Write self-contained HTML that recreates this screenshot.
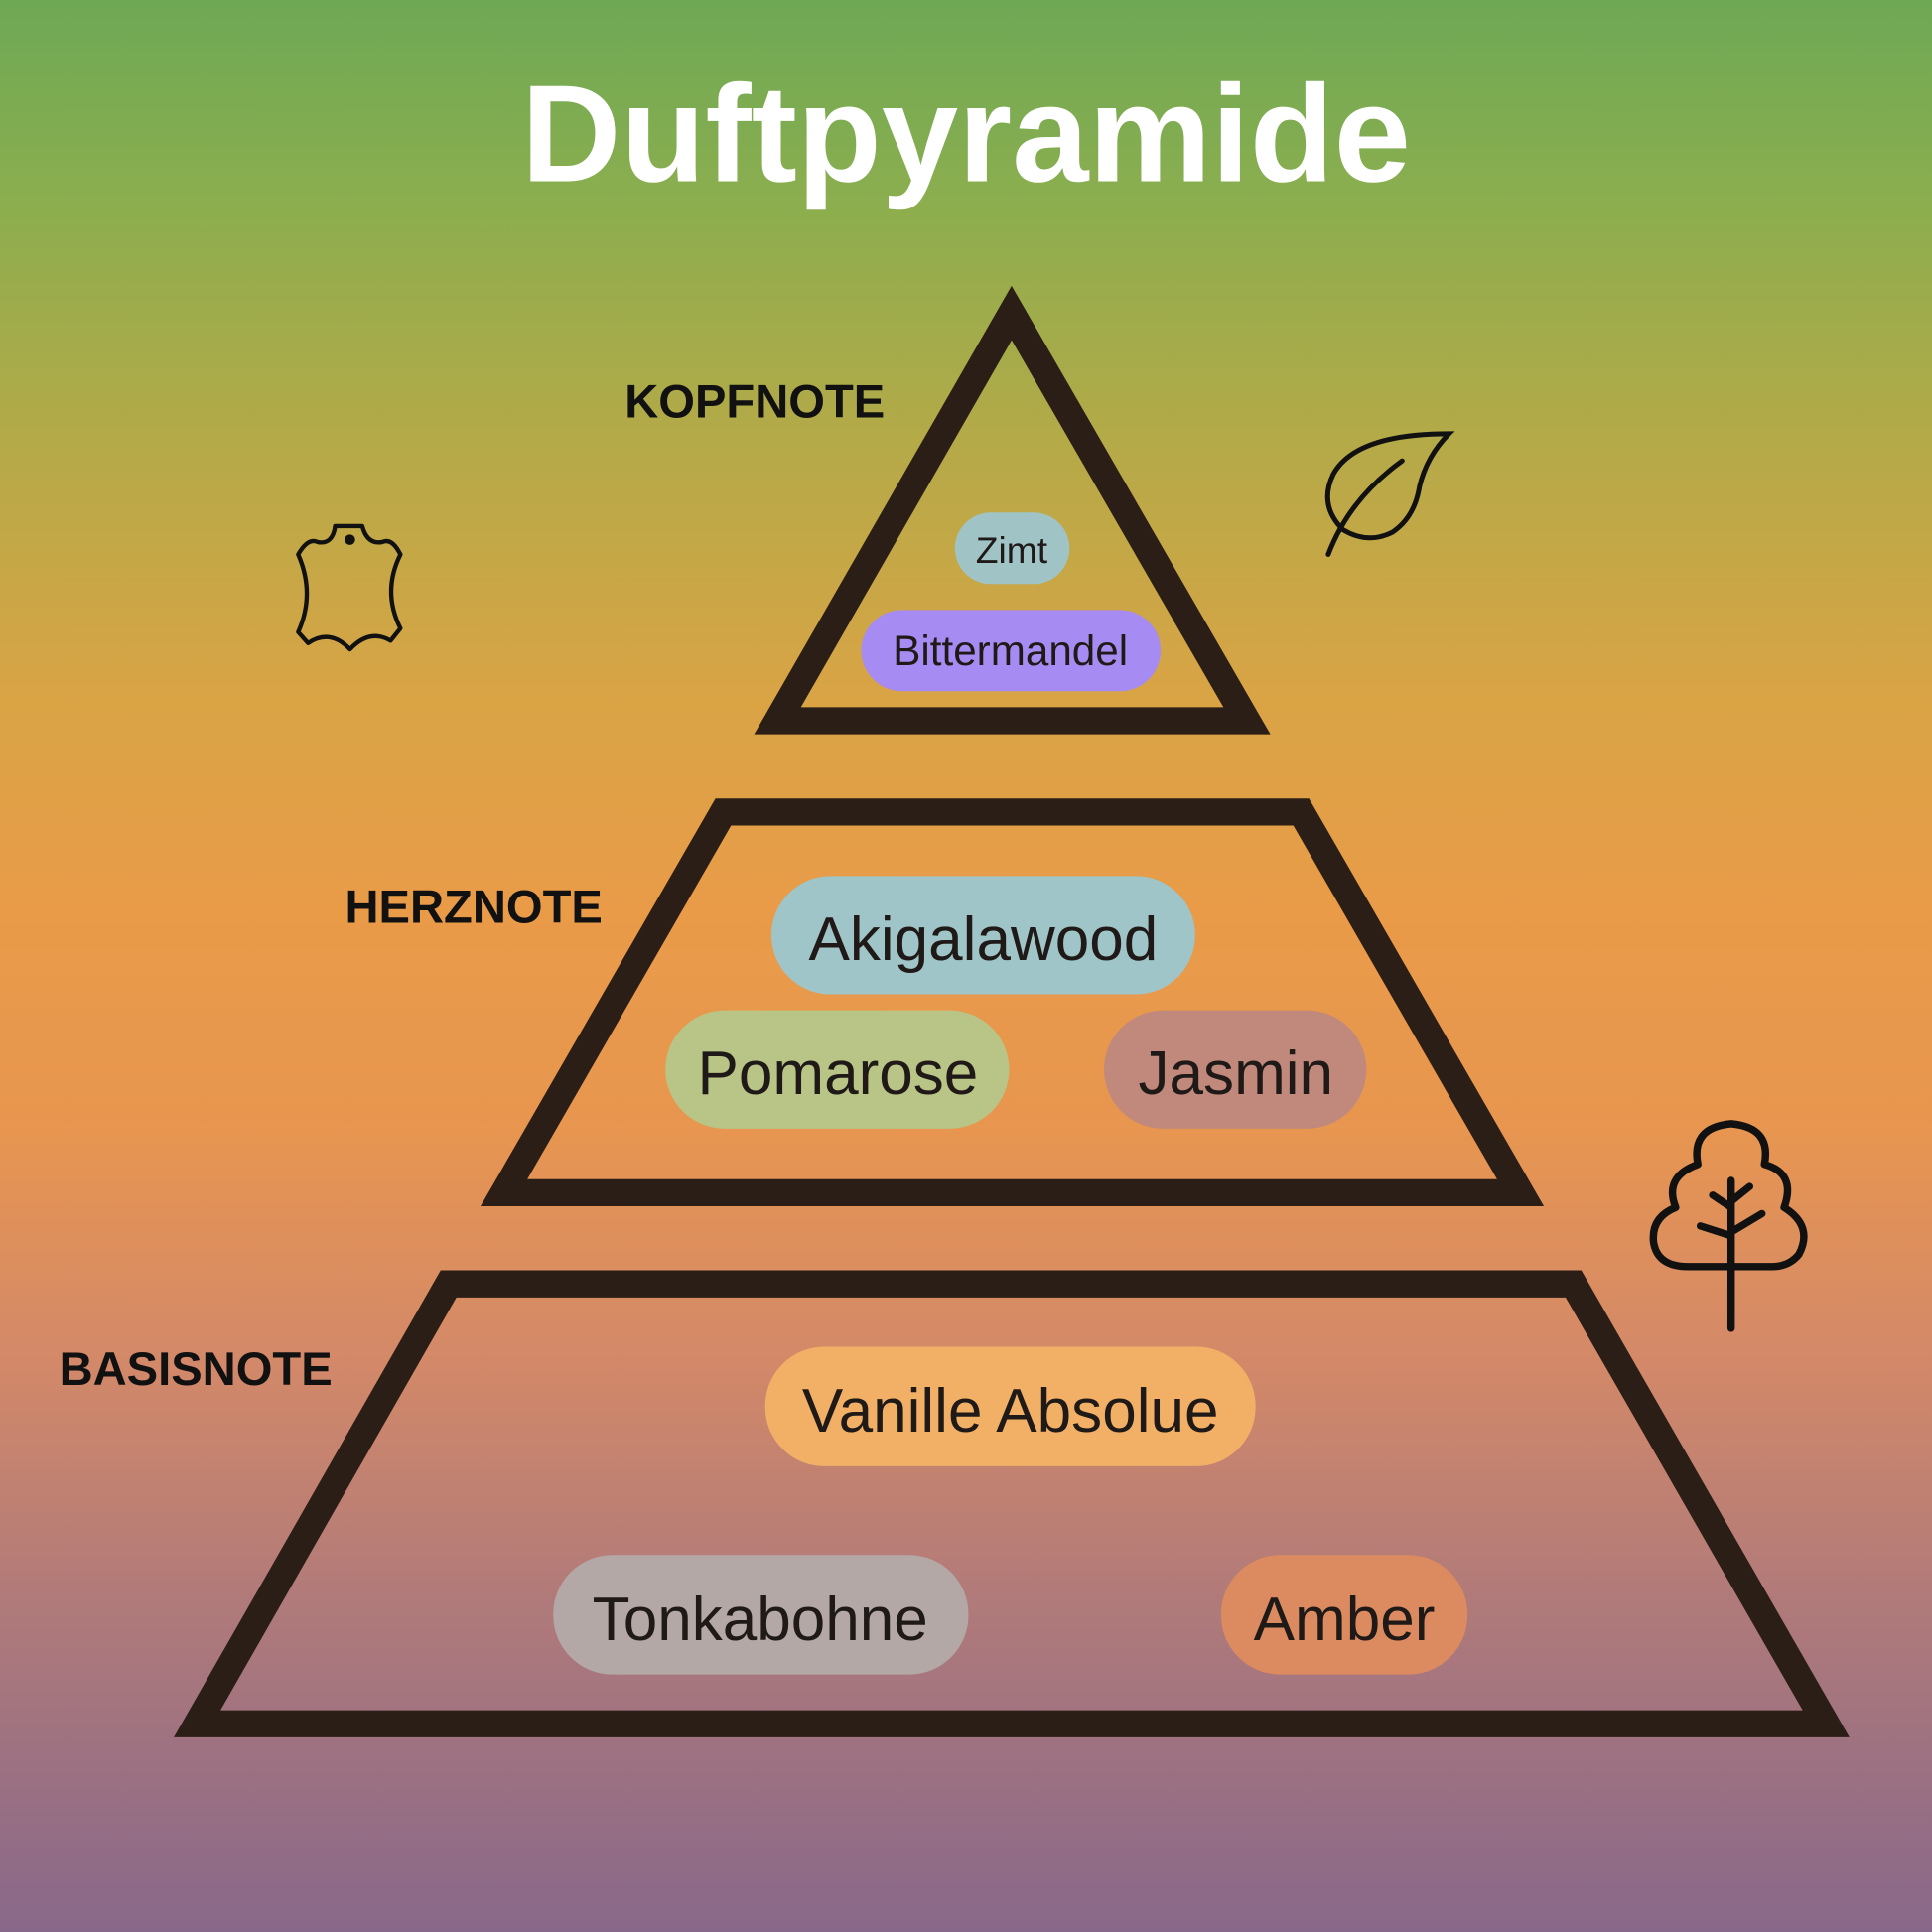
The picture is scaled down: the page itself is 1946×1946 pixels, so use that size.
<!DOCTYPE html>
<html><head><meta charset="utf-8"><style>html,body{margin:0;padding:0;width:1946px;height:1946px;overflow:hidden}</style></head>
<body>
<svg width="1946" height="1946" viewBox="0 0 1568 1568" xmlns="http://www.w3.org/2000/svg">
<defs>
<linearGradient id="bg" x1="0" y1="0" x2="0" y2="1">
<stop offset="0" stop-color="#6ea855"/>
<stop offset="0.1" stop-color="#8aae4f"/>
<stop offset="0.22" stop-color="#b2aa48"/>
<stop offset="0.36" stop-color="#d9a445"/>
<stop offset="0.47" stop-color="#e99b48"/>
<stop offset="0.58" stop-color="#e8964f"/>
<stop offset="0.7" stop-color="#d48968"/>
<stop offset="0.83" stop-color="#b07a7a"/>
<stop offset="1" stop-color="#88688a"/>
</linearGradient>
</defs>
<rect width="1568" height="1568" fill="url(#bg)"/>
<text x="784" y="147" text-anchor="middle" font-family="Liberation Sans, sans-serif" font-weight="bold" font-size="112" fill="#fff">Duftpyramide</text>
<g fill="none" stroke="#2b1e16" stroke-width="22" stroke-linejoin="miter" stroke-miterlimit="10">
<polygon points="821,254 631,585 1012,585"/>
<polygon points="587,659 1056,659 1234,968 409,968"/>
<polygon points="364,1042 1277,1042 1482,1399 160,1399"/>
</g>
<g font-family="Liberation Sans, sans-serif" font-weight="bold" font-size="38" fill="#111">
<text x="507" y="339">KOPFNOTE</text>
<text x="280" y="749">HERZNOTE</text>
<text x="48" y="1124">BASISNOTE</text>
</g>
<g font-family="Liberation Sans, sans-serif" fill="#1f1a17" text-anchor="middle">
<rect x="775" y="416" width="93" height="58" rx="29" fill="#a0c4c6"/>
<text x="821" y="457" font-size="30">Zimt</text>
<rect x="699" y="495" width="243" height="66" rx="33" fill="#a68bf2"/>
<text x="820" y="540" font-size="34">Bittermandel</text>
<rect x="626" y="711" width="344" height="96" rx="48" fill="#9fc5c8"/>
<text x="798" y="779" font-size="50">Akigalawood</text>
<rect x="540" y="820" width="279" height="96" rx="48" fill="#b9c487"/>
<text x="680" y="888" font-size="50">Pomarose</text>
<rect x="896" y="820" width="213" height="96" rx="48" fill="#c0897c"/>
<text x="1003" y="888" font-size="50">Jasmin</text>
<rect x="621" y="1093" width="398" height="97" rx="48" fill="#f2b067"/>
<text x="820" y="1162" font-size="50">Vanille Absolue</text>
<rect x="449" y="1262" width="337" height="97" rx="48" fill="#b3a8a6"/>
<text x="617" y="1331" font-size="50">Tonkabohne</text>
<rect x="991" y="1262" width="200" height="97" rx="48" fill="#dc8b60"/>
<text x="1091" y="1331" font-size="50">Amber</text>
</g>
<!-- leather -->
<g fill="none" stroke="#111" stroke-width="3.5" stroke-linejoin="round">
<path d="M272,427 L294,427 Q298,442 310,440 Q318,436 325,450 Q310,480 325,510 L317,520 Q300,510 284,527 Q268,510 250,522 L242,513 Q256,482 242,450 Q250,436 258,440 Q270,442 272,427 Z"/>
<circle cx="284" cy="438" r="2.5" fill="#111"/>
</g>
<!-- leaf -->
<g fill="none" stroke="#111" stroke-width="4" stroke-linecap="round">
<path d="M1176,352 Q1100,352 1082,385 Q1070,410 1090,430 Q1110,442 1130,432 Q1148,420 1152,395 Q1158,370 1176,352 Z"/>
<path d="M1138,374 Q1095,405 1078,450"/>
</g>
<!-- tree -->
<g fill="none" stroke="#111" stroke-width="6" stroke-linecap="round" stroke-linejoin="round">
<path d="M1378,945 Q1372,915 1405,912 Q1438,915 1432,945 Q1458,952 1448,980 Q1472,995 1460,1018 Q1452,1028 1438,1028 L1370,1028 Q1345,1028 1342,1008 Q1340,988 1360,980 Q1350,955 1378,945 Z"/>
<path d="M1405,958 L1405,1078 M1405,980 L1390,970 M1405,975 L1420,963 M1405,1003 L1380,995 M1405,1000 L1430,985"/>
</g>
</svg>
</body></html>
